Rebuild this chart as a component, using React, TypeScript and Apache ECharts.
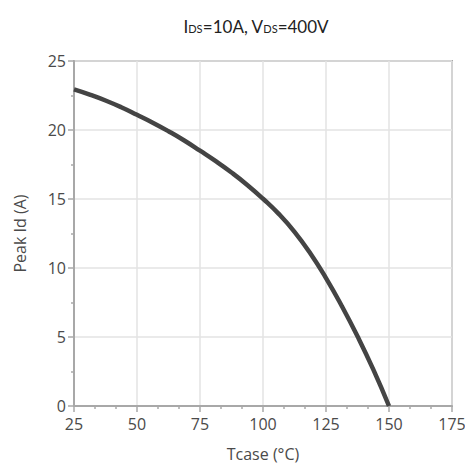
import React, { useEffect, useRef } from "react";
import * as echarts from "echarts";

const tcase = [25, 31.25, 37.5, 43.75, 50, 56.25, 62.5, 68.75, 75, 81.25, 87.5, 93.75, 100, 106.25, 112.5, 118.75, 125, 131.25, 137.5, 143.75, 150];
const peakId = [22.95, 22.57, 22.14, 21.65, 21.1, 20.53, 19.91, 19.24, 18.5, 17.74, 16.92, 16.02, 15.02, 13.92, 12.62, 11.07, 9.27, 7.25, 5.05, 2.65, 0];
const xTicks = [25, 50, 75, 100, 125, 150, 175];
const yTicks = [0, 5, 10, 15, 20, 25];

export default function App() {
  const ref = useRef<HTMLDivElement>(null);
  useEffect(() => {
    if (!ref.current) return;
    const chart = echarts.init(ref.current, null, { renderer: "svg" });
    const axisColor = "#a8a8a8";
    const labelColor = "#4a4a4a";
    const font = "Open Sans";
    chart.setOption({
      animation: false,
      backgroundColor: "#ffffff",
      title: {
        text: "{a|I}{s|DS}{a|=10A, V}{s|DS}{a|=400V}",
        left: 251,
        textAlign: "center",
        top: 10,
        textStyle: {
          fontWeight: "normal",
          rich: {
            a: { fontFamily: "Lato", fontSize: 17, fontWeight: "normal", color: "#222", lineHeight: 22 },
            s: { fontFamily: "Lato", fontSize: 11, fontWeight: "normal", color: "#222", lineHeight: 22, padding: [5, 0, 0, 0] },
          },
        },
      },
      grid: {
        left: 74,
        right: 21,
        top: 61,
        bottom: 67,
        show: true,
        borderColor: axisColor,
        borderWidth: 2,
      },
      xAxis: {
        type: "value",
        min: xTicks[0],
        max: xTicks[xTicks.length - 1],
        interval: 25,
        name: "Tcase (°C)",
        nameLocation: "middle",
        nameGap: 40,
        nameTextStyle: { fontFamily: font, fontSize: 16, color: labelColor },
        axisLine: { show: true, lineStyle: { color: axisColor, width: 2 } },
        axisTick: { show: true, length: 6, lineStyle: { color: axisColor, width: 1.5 } },
        minorTick: { show: true, splitNumber: 3, length: 3, lineStyle: { color: axisColor, width: 1.5 } },
        splitLine: { show: true, lineStyle: { color: "#e3e3e3", width: 1.5 } },
        axisLabel: { fontFamily: font, fontSize: 16, color: labelColor, margin: 10 },
      },
      yAxis: {
        type: "value",
        min: yTicks[0],
        max: yTicks[yTicks.length - 1],
        interval: 5,
        name: "Peak Id (A)",
        nameLocation: "middle",
        nameGap: 46,
        nameTextStyle: { fontFamily: font, fontSize: 16, color: labelColor },
        axisLine: { show: true, lineStyle: { color: axisColor, width: 2 } },
        axisTick: { show: true, length: 6, lineStyle: { color: axisColor, width: 1.5 } },
        minorTick: { show: true, splitNumber: 2, length: 3, lineStyle: { color: axisColor, width: 1.5 } },
        splitLine: { show: true, lineStyle: { color: "#e3e3e3", width: 1.5 } },
        axisLabel: { fontFamily: font, fontSize: 16, color: labelColor, margin: 8 },
      },
      series: [
        {
          type: "line",
          data: tcase.map((t, i) => [t, peakId[i]]),
          smooth: true,
          showSymbol: false,
          lineStyle: { color: "#444444", width: 4.5 },
        },
      ],
    });
    return () => chart.dispose();
  }, []);
  return <div ref={ref} style={{ width: 473, height: 473, margin: -8 }} />;
}
